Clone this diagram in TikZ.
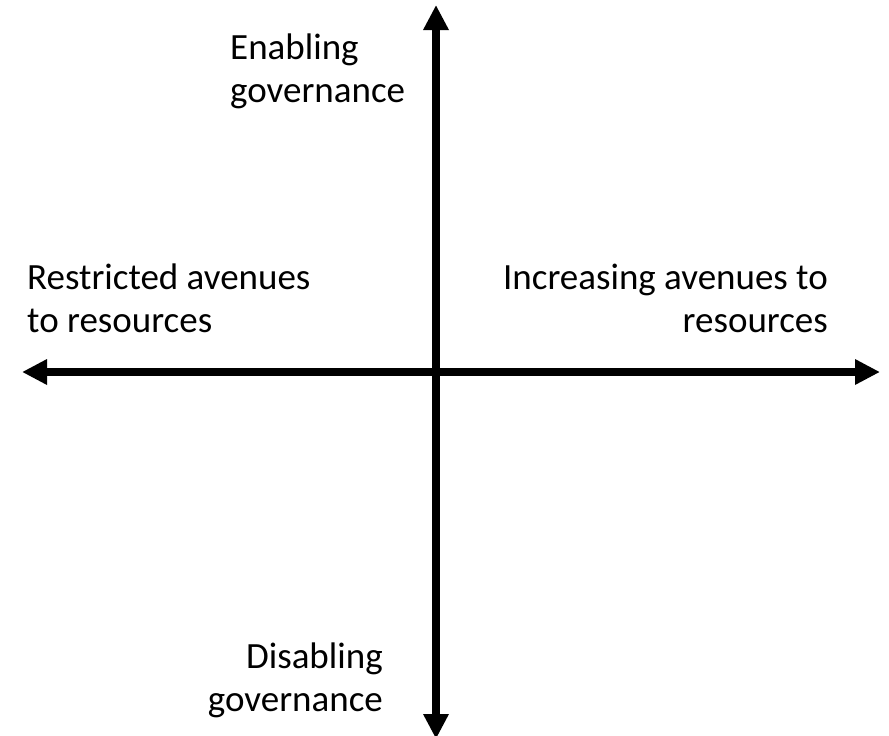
\documentclass[tikz,border=0pt]{standalone}
\usepackage{fontspec}
\setmainfont{Carlito}
\usetikzlibrary{arrows.meta}
\tikzset{
  axis/.style={line width=8pt, {Triangle[length=25pt,width=24pt]}-{Triangle[length=25pt,width=24pt]}},
  lbl/.style={inner sep=0pt, font=\fontsize{37}{43}\selectfont}
}
\begin{document}
\begin{tikzpicture}[x=1pt,y=-1pt]
\useasboundingbox (0,0) rectangle (889,736);
\coordinate (top) at (436,5);
\coordinate (bottom) at (436,739);
\coordinate (left) at (22,372);
\coordinate (right) at (880,372);
\draw[axis] (bottom) -- (top);
\draw[axis] (left) -- (right);
\node[lbl, anchor=north west, align=left] (enab) at (230,34) {Enabling\\governance};
\node[lbl, anchor=north west, align=left] (restr) at (27,264) {Restricted avenues\\to resources};
\node[lbl, anchor=north east, align=right] (incr) at (828,264) {Increasing avenues to\\resources};
\node[lbl, anchor=north east, align=right] (disab) at (383,643) {Disabling\\governance};
\end{tikzpicture}
\end{document}
